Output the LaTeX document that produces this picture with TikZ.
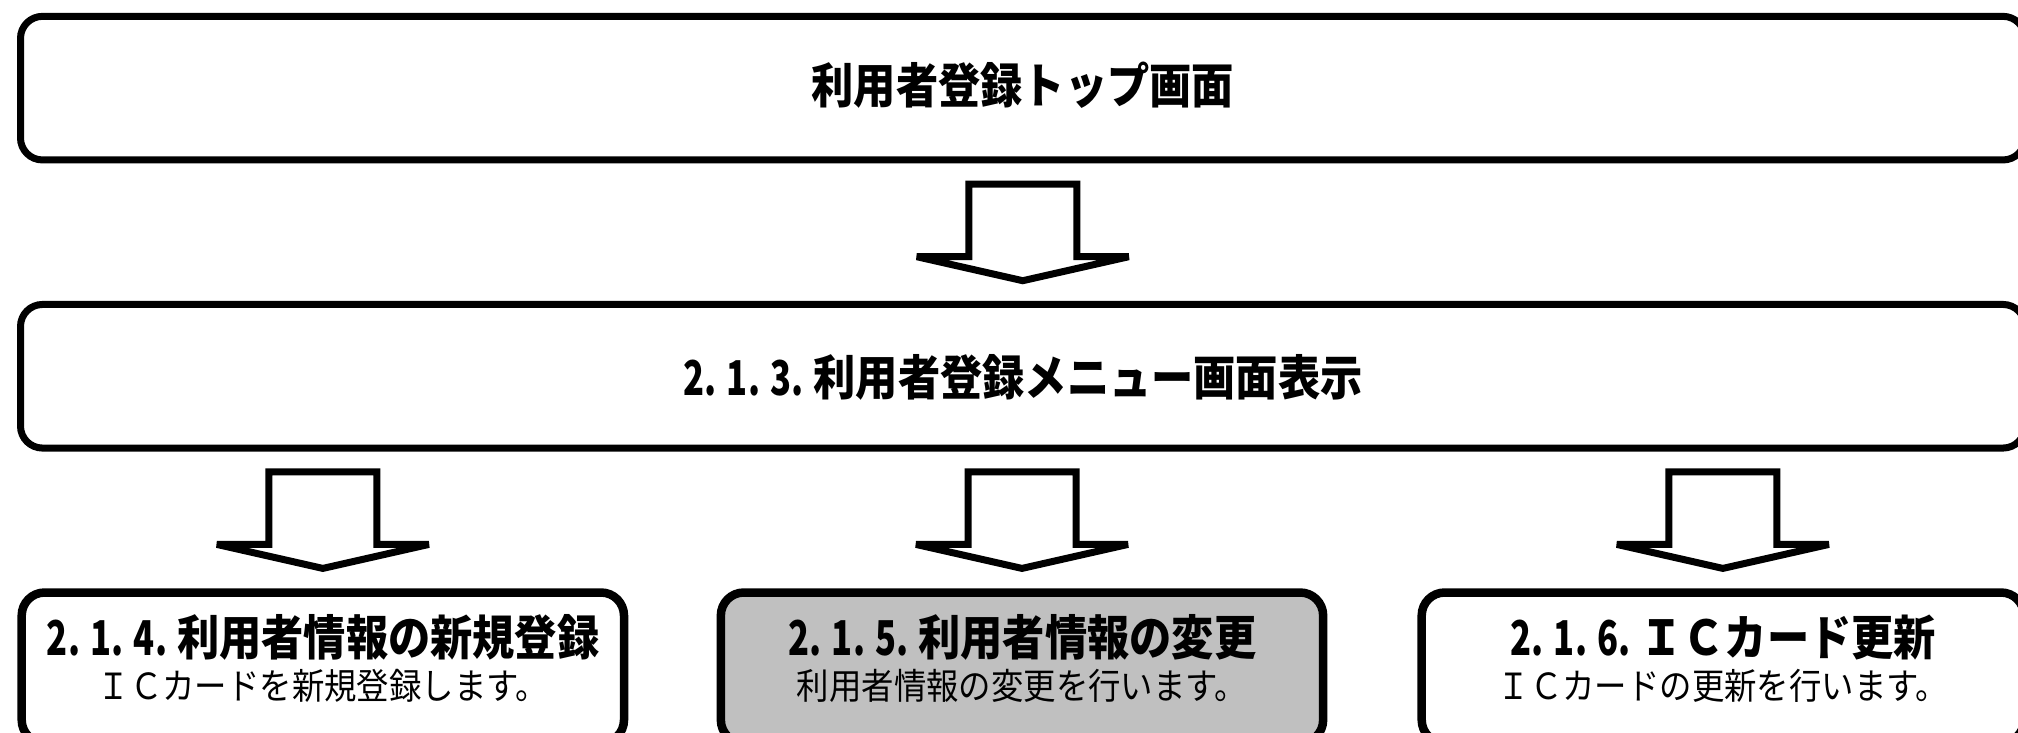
\documentclass[tikz,border=0pt]{standalone}
\usepackage{fontspec}
\usetikzlibrary{calc}
\newfontfamily\jpt[FakeStretch=0.88]{Noto Sans CJK JP}
\newfontfamily\jps[FakeStretch=0.9]{Noto Sans CJK JP}
\newfontfamily\jpdig[FakeStretch=0.72]{Noto Sans CJK JP}
\newcommand\hd[1]{\makebox[21.8pt]{\jpdig #1}}
\newcommand\hp{\makebox[21.8pt][l]{\jpdig .}}
\definecolor{boxgray}{RGB}{192,192,192}
\begin{document}
\begin{tikzpicture}[x=1pt,y=-1pt,
  topbox/.style={draw=black, fill=white, line width=7pt, rounded corners=22pt,
    minimum width=2004.5pt, minimum height=143.6pt, inner sep=0pt},
  subbox/.style={draw=black, fill=white, line width=8.5pt, rounded corners=23pt,
    minimum width=602.3pt, minimum height=150.5pt, inner sep=0pt},
  titletext/.style={font={\jpt\bfseries\fontsize{48}{56}\selectfont}, inner sep=0pt, anchor=base},
  subtext/.style={font={\jps\fontsize{36}{42}\selectfont}, inner sep=0pt, anchor=base},
  downarrow/.pic={\draw[line width=7pt, line join=miter, miter limit=2, fill=white]
    (-54,-48) -- (54,-48) -- (54,24.5) -- (106,24.5) -- (0,48.5) -- (-106,24.5) -- (-54,24.5) -- cycle;}
]
\useasboundingbox (0,0) rectangle (2018,732);
\clip (0,0) rectangle (2018,732);

\node[topbox] (top) at (1022.75,88.15) {};
\node[topbox] (menu) at (1022.75,376.25) {};
\node[subbox] (new) at (322.85,667.75) {};
\node[subbox, fill=boxgray] (chg) at (1022,667.75) {};
\node[subbox] (ic) at (1722.85,667.75) {};

\node[titletext] (toptxt) at ($(top.center)+(0,15)$) {利用者登録トップ画面};
\node[titletext] (menutxt) at ($(menu.center)+(0,19)$) {\hd2\hp\hd1\hp\hd3\hp 利用者登録メニュー画面表示};

\node[titletext] (newtxt) at ($(new.center)+(0,-12)$) {\hd2\hp\hd1\hp\hd4\hp 利用者情報の新規登録};
\node[subtext] (newsub) at ($(new.center)+(0,32)$) {ＩＣカードを新規登録します。};

\node[titletext] (chgtxt) at ($(chg.center)+(0,-12)$) {\hd2\hp\hd1\hp\hd5\hp 利用者情報の変更};
\node[subtext] (chgsub) at ($(chg.center)+(0,32)$) {利用者情報の変更を行います。};

\node[titletext] (ictxt) at ($(ic.center)+(0,-12)$) {\hd2\hp\hd1\hp\hd6\hp ＩＣカード更新};
\node[subtext] (icsub) at ($(ic.center)+(0,32)$) {ＩＣカードの更新を行います。};

\pic at ($(top.south)!0.5!(menu.north)$) {downarrow};
\pic at ($(menu.south -| new.north)!0.5!(new.north)$) {downarrow};
\pic at ($(menu.south -| chg.north)!0.5!(chg.north)$) {downarrow};
\pic at ($(menu.south -| ic.north)!0.5!(ic.north)$) {downarrow};
\end{tikzpicture}
\end{document}
